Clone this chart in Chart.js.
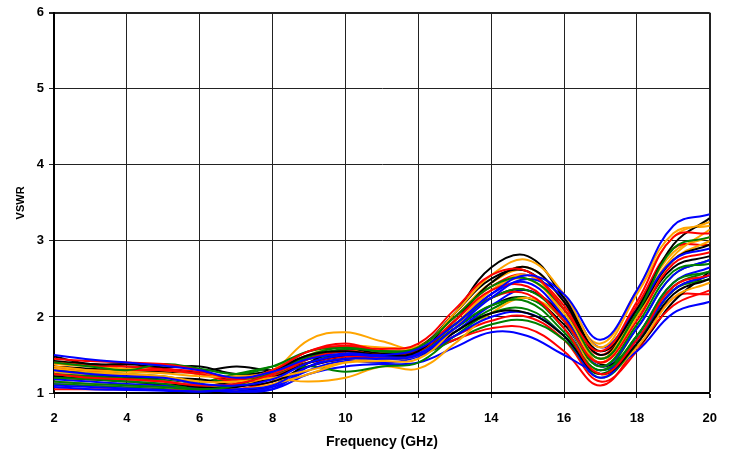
<!DOCTYPE html>
<html>
<head>
<meta charset="utf-8">
<script src="https://cdn.jsdelivr.net/npm/chart.js@4/dist/chart.umd.min.js"></script>
<style>
  html, body { margin: 0; padding: 0; background: #fff; }
  #wrap { width: 730px; height: 455px; }
</style>
</head>
<body>
<div id="wrap"><canvas id="vswr"></canvas></div>
<script>
// frequency points (GHz)
const freqs = [2,3,4,5,6,7,8,9,10,11,12,13,14,15,16,17,18,19,20];
const xTicks = [2,4,6,8,10,12,14,16,18,20];
const yTicks = [1,2,3,4,5,6];

// one VSWR trace per unit
const unit01 = [1.50,1.44,1.40,1.36,1.30,1.20,1.28,1.45,1.52,1.50,1.58,1.90,2.30,2.55,2.30,1.70,2.35,3.20,3.35];
const unit02 = [1.45,1.42,1.40,1.38,1.30,1.18,1.30,1.55,1.62,1.58,1.65,2.10,2.55,2.60,2.10,1.55,2.20,3.05,3.10];
const unit03 = [1.40,1.35,1.30,1.38,1.32,1.25,1.35,1.55,1.60,1.55,1.60,2.00,2.40,2.50,2.10,1.45,2.05,2.90,3.05];
const unit04 = [1.35,1.30,1.28,1.26,1.22,1.22,1.30,1.70,1.80,1.68,1.60,2.05,2.55,2.75,2.30,1.60,2.30,3.05,3.25];
const unit05 = [1.48,1.38,1.38,1.34,1.35,1.25,1.30,1.50,1.55,1.50,1.55,2.05,2.65,2.80,2.25,1.55,2.10,2.95,3.30];
const unit06 = [1.30,1.25,1.22,1.20,1.12,1.10,1.18,1.40,1.50,1.48,1.52,1.85,2.25,2.50,2.25,1.60,2.10,2.75,2.90];
const unit07 = [1.25,1.20,1.18,1.15,1.10,1.12,1.25,1.45,1.55,1.50,1.55,1.95,2.35,2.40,1.95,1.40,1.95,2.70,2.85];
const unit08 = [1.20,1.18,1.15,1.12,1.05,1.10,1.28,1.48,1.58,1.55,1.58,1.90,2.25,2.35,1.95,1.35,1.90,2.60,2.70];
const unit09 = [1.28,1.25,1.25,1.22,1.15,1.15,1.20,1.30,1.40,1.42,1.45,1.85,2.35,2.55,2.10,1.45,2.10,2.80,3.15];
const unit10 = [1.22,1.18,1.15,1.12,1.08,1.08,1.20,1.40,1.50,1.50,1.55,1.95,2.45,2.65,2.20,1.50,2.05,2.75,2.95];
const unit11 = [1.10,1.08,1.06,1.04,1.02,1.05,1.10,1.35,1.45,1.45,1.50,1.85,2.30,2.45,2.00,1.35,1.85,2.55,2.75];
const unit12 = [1.35,1.30,1.30,1.30,1.25,1.15,1.22,1.40,1.48,1.48,1.55,1.90,2.25,2.30,1.85,1.25,1.70,2.40,2.55];
const unit13 = [1.15,1.12,1.10,1.08,1.05,1.12,1.30,1.50,1.60,1.55,1.55,1.85,2.15,2.20,1.80,1.30,1.75,2.45,2.60];
const unit14 = [1.32,1.28,1.25,1.20,1.12,1.05,1.12,1.25,1.40,1.45,1.50,1.90,2.35,2.50,2.05,1.40,2.00,2.75,3.00];
const unit15 = [1.30,1.25,1.22,1.20,1.18,1.10,1.15,1.35,1.45,1.45,1.50,1.80,2.05,2.05,1.75,1.25,1.65,2.30,2.50];
const unit16 = [1.18,1.15,1.12,1.10,1.05,1.02,1.08,1.30,1.42,1.40,1.48,1.75,2.00,2.05,1.75,1.20,1.70,2.35,2.55];
const unit17 = [1.40,1.36,1.35,1.32,1.28,1.20,1.30,1.55,1.65,1.55,1.60,2.00,2.40,2.55,2.15,1.50,2.15,2.90,2.95];
const unit18 = [1.25,1.22,1.20,1.18,1.15,1.18,1.25,1.35,1.28,1.35,1.40,1.75,2.05,2.10,1.75,1.20,1.65,2.35,2.50];
const unit19 = [1.15,1.12,1.10,1.08,1.05,1.10,1.18,1.15,1.20,1.35,1.32,1.65,2.05,2.25,1.95,1.25,1.60,2.25,2.45];
const unit20 = [1.25,1.22,1.20,1.18,1.12,1.05,1.10,1.40,1.58,1.52,1.60,2.05,2.50,2.60,2.10,1.45,2.00,2.65,2.80];
const unit21 = [1.08,1.05,1.04,1.03,1.02,1.04,1.05,1.25,1.35,1.38,1.40,1.60,1.80,1.75,1.50,1.30,1.55,2.05,2.20];
const unit22 = [1.20,1.18,1.18,1.15,1.10,1.12,1.22,1.45,1.55,1.48,1.52,1.70,1.85,1.85,1.55,1.10,1.60,2.15,2.35];
const unit23 = [1.30,1.28,1.25,1.22,1.15,1.25,1.35,1.45,1.50,1.48,1.50,1.70,1.90,1.95,1.70,1.25,1.75,2.40,2.60];
const unit24 = [1.38,1.35,1.32,1.30,1.25,1.22,1.28,1.45,1.55,1.55,1.60,1.95,2.45,2.65,2.20,1.65,2.35,3.10,3.20];
const unit25 = [1.42,1.38,1.35,1.32,1.25,1.18,1.28,1.48,1.55,1.52,1.58,1.90,2.25,2.35,2.00,1.38,1.60,2.20,2.60];
const unit26 = [1.14,1.12,1.10,1.08,1.06,1.02,1.05,1.35,1.50,1.45,1.50,1.80,2.15,2.35,1.95,1.25,1.75,2.45,2.65];
const unit27 = [1.05,1.05,1.05,1.04,1.03,1.05,1.15,1.35,1.45,1.45,1.50,1.75,1.95,2.00,1.70,1.15,1.55,2.25,2.30];
const unit28 = [1.12,1.10,1.08,1.06,1.05,1.08,1.20,1.45,1.55,1.50,1.50,1.80,2.10,2.25,1.85,1.30,1.85,2.55,2.75];
const unit29 = [1.22,1.20,1.18,1.15,1.10,1.15,1.25,1.50,1.62,1.60,1.62,2.00,2.45,2.60,2.00,1.40,2.10,2.85,3.05];
const unit30 = [1.35,1.32,1.30,1.28,1.28,1.35,1.30,1.40,1.48,1.50,1.55,1.85,2.15,2.25,1.90,1.35,1.70,2.35,2.55];

const traces = [unit01,unit02,unit03,unit04,unit05,unit06,unit07,unit08,unit09,unit10,
                unit11,unit12,unit13,unit14,unit15,unit16,unit17,unit18,unit19,unit20,
                unit21,unit22,unit23,unit24,unit25,unit26,unit27,unit28,unit29,unit30];
const palette = ['#0000FF','#FF0000','#008000','#FFA500','#000000'];

const datasets = traces.map((vals, i) => ({
  label: 'Unit ' + (i + 1),
  data: vals.map((v, k) => ({ x: freqs[k], y: v })),
  borderColor: palette[i % palette.length],
  backgroundColor: palette[i % palette.length],
  borderWidth: 2,
  pointRadius: 0,
  tension: 0.4,
  fill: false
}));

const fontFamily = 'Liberation Sans, Arial, sans-serif';
const tickFont = { family: fontFamily, size: 13, weight: 'bold' };

new Chart(document.getElementById('vswr'), {
  type: 'line',
  data: { datasets: datasets },
  options: {
    responsive: true,
    maintainAspectRatio: false,
    animation: false,
    layout: { padding: { left: 0, right: 20, top: 10, bottom: 0 } },
    plugins: { legend: { display: false }, tooltip: { enabled: false } },
    scales: {
      x: {
        type: 'linear',
        min: 2, max: 20,
        afterBuildTicks: (scale) => { scale.ticks = xTicks.map(v => ({ value: v })); },
        afterFit: (scale) => { scale.height = 62; },
        grid: {
          color: '#222',
          lineWidth: (c) => (c.tick && c.tick.value === 20 ? 2 : 1),
          tickLength: 5
        },
        border: { display: true, color: '#000', width: 2 },
        ticks: { color: '#000', font: tickFont, padding: 13, maxRotation: 0 },
        title: {
          display: true,
          text: 'Frequency (GHz)',
          color: '#000',
          font: { family: fontFamily, size: 14, weight: 'bold' },
          padding: { top: 4, bottom: 4 }
        }
      },
      y: {
        min: 1, max: 6,
        afterBuildTicks: (scale) => { scale.ticks = yTicks.map(v => ({ value: v })); },
        afterFit: (scale) => { scale.width = 54; },
        grid: {
          color: '#222',
          lineWidth: (c) => (c.tick && c.tick.value === 6 ? 2 : 1),
          tickLength: 5
        },
        border: { display: true, color: '#000', width: 2 },
        ticks: { color: '#000', font: tickFont, padding: 5 },
        title: {
          display: true,
          text: 'VSWR',
          color: '#000',
          font: { family: fontFamily, size: 11, weight: 'bold' },
          padding: { top: 14, bottom: 4 }
        }
      }
    }
  }
});
</script>
</body>
</html>
